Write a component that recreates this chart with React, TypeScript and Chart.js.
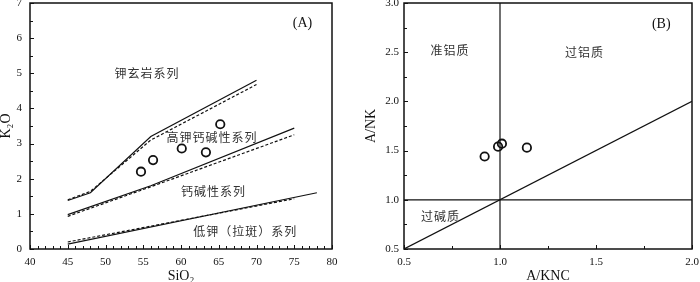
import React, { useEffect, useRef } from "react";
import { Chart, registerables } from "chart.js";

Chart.register(...registerables);

// ---------- Panel A data (SiO2 vs K2O) ----------
const shoshSolidX = [45, 48, 56, 70];
const shoshSolidY = [1.38, 1.6, 3.2, 4.8];
const shoshDashX = [45, 48, 56, 70];
const shoshDashY = [1.4, 1.64, 3.1, 4.68];
const highKSolidX = [45, 56, 75];
const highKSolidY = [0.98, 1.8, 3.44];
const highKDashX = [45, 56, 75];
const highKDashY = [0.93, 1.77, 3.25];
const lowKSolidX = [45, 78];
const lowKSolidY = [0.14, 1.6];
const lowKDashX = [45, 75];
const lowKDashY = [0.2, 1.43];
const sampleSiO2 = [54.7, 56.3, 60.1, 63.3, 65.2];
const sampleK2O = [2.2, 2.53, 2.86, 2.75, 3.55];
const labelsA = ["钾玄岩系列", "高钾钙碱性系列", "钙碱性系列", "低钾（拉斑）系列", "(A)"];
const labelsAX = [55.5, 64.1, 64.3, 68.5, 76.1];
const labelsAY = [5.0, 3.17, 1.63, 0.51, 6.43];

// ---------- Panel B data (A/KNC vs A/NK) ----------
const sampleAKNC = [0.92, 0.99, 1.01, 1.14];
const sampleANK = [1.44, 1.54, 1.57, 1.53];
const vLineX = [1.0, 1.0];
const vLineY = [0.5, 3.0];
const hLineX = [0.5, 2.0];
const hLineY = [1.0, 1.0];
const diagX = [0.5, 2.0];
const diagY = [0.5, 2.0];
const labelsB = ["准铝质", "过铝质", "过碱质", "(B)"];
const labelsBX = [0.74, 1.44, 0.69, 1.84];
const labelsBY = [2.52, 2.5, 0.83, 2.78];

const pts = (xs: number[], ys: number[]) => xs.map((x, i) => ({ x, y: ys[i] }));

const SERIF = '"Liberation Serif", "Times New Roman", serif';
const CJK = '"Noto Sans CJK SC", sans-serif';

function lineDs(xs: number[], ys: number[], dashed: boolean) {
  return {
    type: "scatter" as const,
    data: pts(xs, ys),
    showLine: true,
    borderColor: "#111",
    borderWidth: 1.2,
    borderDash: dashed ? [3, 2] : [],
    pointRadius: 0,
    fill: false,
    tension: 0,
  };
}

function sampleDs(xs: number[], ys: number[]) {
  return {
    type: "scatter" as const,
    data: pts(xs, ys),
    showLine: false,
    pointRadius: 4.2,
    pointBorderWidth: 1.8,
    pointBorderColor: "#111",
    pointBackgroundColor: "rgba(255,255,255,0)",
  };
}

function makeFramePlugin(
  xMin: number, xMax: number, xStep: number, xMajor: number,
  yMin: number, yMax: number, yStep: number, yMajor: number,
  texts: string[], tx: number[], ty: number[]
) {
  return {
    id: "frameTicks",
    afterDatasetsDraw(chart: any) {
      const { ctx, chartArea: a, scales } = chart;
      const xs = scales.x;
      const ys = scales.y;
      ctx.save();
      ctx.strokeStyle = "#111";
      ctx.lineWidth = 1.5;
      ctx.strokeRect(a.left, a.top, a.right - a.left, a.bottom - a.top);
      ctx.lineWidth = 1;
      ctx.beginPath();
      const nx = Math.round((xMax - xMin) / xStep);
      for (let i = 0; i <= nx; i++) {
        const v = xMin + i * xStep;
        const px = Math.round(xs.getPixelForValue(v)) + 0.5;
        const isMajor = Math.abs(v / xMajor - Math.round(v / xMajor)) < 1e-6;
        const len = isMajor ? 4 : 3;
        ctx.moveTo(px, a.bottom);
        ctx.lineTo(px, a.bottom - len);
      }
      const ny = Math.round((yMax - yMin) / yStep);
      for (let i = 0; i <= ny; i++) {
        const v = yMin + i * yStep;
        const py = Math.round(ys.getPixelForValue(v)) + 0.5;
        const isMajor = Math.abs(v / yMajor - Math.round(v / yMajor)) < 1e-6;
        const len = isMajor ? 4 : 3;
        ctx.moveTo(a.left, py);
        ctx.lineTo(a.left + len, py);
      }
      ctx.stroke();
      ctx.textAlign = "center";
      ctx.textBaseline = "middle";
      texts.forEach((t, i) => {
        const isTag = t.startsWith("(");
        ctx.fillStyle = isTag ? "#111" : "#333";
        ctx.font = isTag ? `14px ${SERIF}` : `12px ${CJK}`;
        (ctx as any).letterSpacing = isTag ? "0px" : "1px";
        ctx.fillText(t, xs.getPixelForValue(tx[i]), ys.getPixelForValue(ty[i]));
      });
      ctx.restore();
    },
  };
}

function baseOptions(opts: {
  xMin: number; xMax: number; xStep: number; xTitle: string;
  yMin: number; yMax: number; yStep: number; yTitle: string;
  yWidth: number; padRight: number; yTitlePad: number; xTitlePad: number;
  decimals: number; yTickPad: number;
}) {
  const fmt = (v: any) => Number(v).toFixed(opts.decimals);
  return {
    animation: false,
    responsive: false,
    maintainAspectRatio: false,
    layout: { padding: { top: 0, right: opts.padRight, left: 0, bottom: 0 } },
    plugins: { legend: { display: false }, tooltip: { enabled: false } },
    scales: {
      x: {
        type: "linear",
        min: opts.xMin,
        max: opts.xMax,
        grid: { display: false, drawTicks: false },
        border: { display: false },
        ticks: {
          stepSize: opts.xStep,
          color: "#111",
          font: { family: SERIF, size: 11 },
          padding: 7,
          maxRotation: 0,
          callback: fmt,
        },
        title: {
          display: true,
          text: opts.xTitle,
          color: "#111",
          font: { family: SERIF, size: 14 },
          padding: { top: 0, bottom: opts.xTitlePad },
        },
        afterFit: (s: any) => {
          s.height = 33;
          s.paddingLeft = 0;
          s.paddingRight = 0;
        },
      },
      y: {
        type: "linear",
        min: opts.yMin,
        max: opts.yMax,
        grid: { display: false, drawTicks: false },
        border: { display: false },
        ticks: {
          stepSize: opts.yStep,
          color: "#111",
          font: { family: SERIF, size: 11 },
          padding: opts.yTickPad,
          callback: fmt,
        },
        title: {
          display: true,
          text: opts.yTitle,
          color: "#111",
          font: { family: SERIF, size: 14 },
          padding: { top: opts.yTitlePad, bottom: 0 },
        },
        afterFit: (s: any) => {
          s.width = opts.yWidth;
          s.paddingTop = 0;
          s.paddingBottom = 0;
        },
      },
    },
  } as any;
}

const canvasStyle = { display: "block", marginTop: -3 } as const;

function PanelA() {
  const ref = useRef<HTMLCanvasElement>(null);
  useEffect(() => {
    if (!ref.current) return;
    const chart = new Chart(ref.current, {
      type: "scatter",
      data: {
        datasets: [
          lineDs(shoshSolidX, shoshSolidY, false),
          lineDs(shoshDashX, shoshDashY, true),
          lineDs(highKSolidX, highKSolidY, false),
          lineDs(highKDashX, highKDashY, true),
          lineDs(lowKSolidX, lowKSolidY, false),
          lineDs(lowKDashX, lowKDashY, true),
          sampleDs(sampleSiO2, sampleK2O),
        ] as any,
      },
      options: baseOptions({
        xMin: 40, xMax: 80, xStep: 5, xTitle: "SiO₂",
        yMin: 0, yMax: 7, yStep: 1, yTitle: "K₂O",
        yWidth: 30, padRight: 18, yTitlePad: -2, xTitlePad: -3,
        decimals: 0, yTickPad: 8,
      }),
      plugins: [makeFramePlugin(40, 80, 1, 5, 0, 7, 0.5, 1, labelsA, labelsAX, labelsAY)],
    });
    return () => chart.destroy();
  }, []);
  return <canvas ref={ref} width={350} height={285} style={canvasStyle} />;
}

function PanelB() {
  const ref = useRef<HTMLCanvasElement>(null);
  useEffect(() => {
    if (!ref.current) return;
    const chart = new Chart(ref.current, {
      type: "scatter",
      data: {
        datasets: [
          lineDs(vLineX, vLineY, false),
          lineDs(hLineX, hLineY, false),
          lineDs(diagX, diagY, false),
          sampleDs(sampleAKNC, sampleANK),
        ] as any,
      },
      options: baseOptions({
        xMin: 0.5, xMax: 2.0, xStep: 0.5, xTitle: "A/KNC",
        yMin: 0.5, yMax: 3.0, yStep: 0.5, yTitle: "A/NK",
        yWidth: 54, padRight: 8, yTitlePad: 13, xTitlePad: -3,
        decimals: 1, yTickPad: 5,
      }),
      plugins: [makeFramePlugin(0.5, 2.0, 0.25, 0.5, 0.5, 3.0, 0.25, 0.5, labelsB, labelsBX, labelsBY)],
    });
    return () => chart.destroy();
  }, []);
  return <canvas ref={ref} width={350} height={285} style={canvasStyle} />;
}

export default function App() {
  return (
    <div
      style={{
        position: "fixed",
        left: 0,
        top: 0,
        width: 700,
        height: 282,
        display: "flex",
        alignItems: "flex-start",
        overflow: "hidden",
        background: "#fff",
      }}
    >
      <PanelA />
      <PanelB />
    </div>
  );
}
